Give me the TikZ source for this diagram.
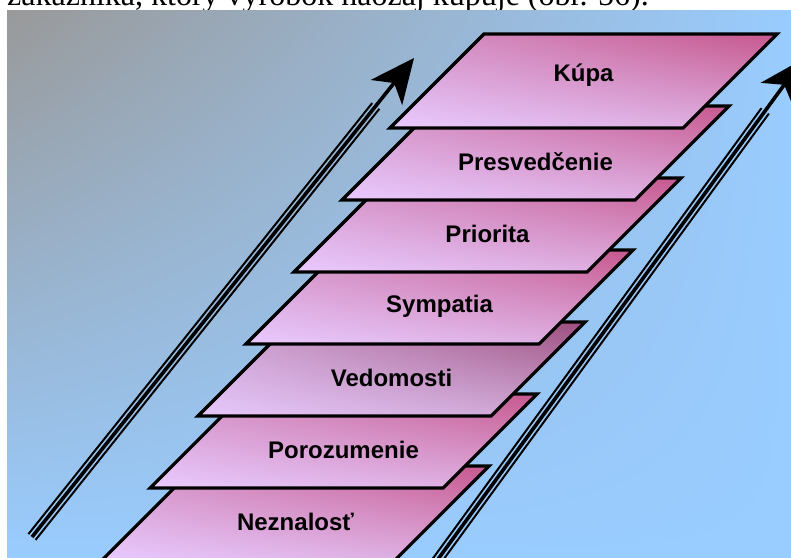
\documentclass[tikz,border=0pt]{standalone}
\usepackage{fontspec}
\newfontfamily\labelfont{Liberation Sans}
\newfontfamily\capfont{Liberation Serif}
\usetikzlibrary{arrows.meta,calc,shadings}
\definecolor{bggray}{RGB}{153,153,153}
\definecolor{bgblue}{RGB}{153,204,255}
\definecolor{layer-tl}{RGB}{214,148,200}
\definecolor{layer-tr}{RGB}{198,88,142}
\definecolor{layer-bl}{RGB}{232,202,255}
\definecolor{layer-br}{RGB}{220,170,220}
\definecolor{mute-tl}{RGB}{204,160,206}
\definecolor{mute-tr}{RGB}{156,78,126}
\definecolor{mute-bl}{RGB}{230,200,252}
\definecolor{mute-br}{RGB}{204,164,208}

\begin{document}
\begin{tikzpicture}[
        x=1pt, y=-1pt,
        stepplane/.style={draw=black, line width=3.2pt, line join=miter},
        steplabel/.style={font=\labelfont\bfseries\fontsize{24}{28}\selectfont,
            text=black, inner sep=0pt},
        caption/.style={font=\capfont\fontsize{32}{38}\selectfont, inner sep=0pt},
        railline/.style={line width=2pt, line cap=butt},
        railspine/.style={line width=3.6pt, line cap=butt,
            -{Stealth[length=44pt, width=40pt, inset=12pt]}}
    ]
        \useasboundingbox (0,0) rectangle (791,557);
        \clip (0,0) rectangle (791,557);
        \node[caption, anchor=base west] (cap) at (7,5) {zákazníka, ktorý výrobok naozaj kupuje (obr. 56).};
        \shade[upper left=bggray, upper right=bgblue, lower left=bgblue, lower right=bgblue]
            (7,10) rectangle (791,557);
        % planes, drawn from the bottom one up
        \foreach \k/\word/\lift/\tone in {6/Neznalosť/9/layer, 5/Porozumenie/9/layer,
                4/Vedomosti/9/mute, 3/Sympatia/9/layer, 2/Priorita/9/layer,
                1/Presvedčenie/9/layer, 0/Kúpa/-6/layer} {
            \coordinate (bl\k) at (390-48*\k, 128+72*\k);
            \shadedraw[stepplane, upper left=\tone-tl, upper right=\tone-tr,
                    lower left=\tone-bl, lower right=\tone-br]
                (bl\k) -- ++(293,0) -- ++(94,-94) -- ++(-293,0) -- cycle;
            \node[steplabel] (step\k) at ($(bl\k)+(193.5,{-47+\lift})$) {\word};
        }
        % the two rising arrows
        \coordinate (ltail) at (32,537);
        \coordinate (ltip) at (414,58);
        \coordinate (rtail) at (425,577);
        \coordinate (rtip) at (803,59);
        \foreach \a in {l,r} {
            \coordinate (\a end) at ($(\a tail)!0.9!(\a tip)$);
            \draw[railline] ($(\a tail)!4.6pt!90:(\a tip)$) -- ($(\a end)!4.6pt!-90:(\a tail)$);
            \draw[railline] ($(\a tail)!4.6pt!-90:(\a tip)$) -- ($(\a end)!4.6pt!90:(\a tail)$);
            \draw[railspine] (\a tail) -- (\a tip);
        }
    \end{tikzpicture}
\end{document}
